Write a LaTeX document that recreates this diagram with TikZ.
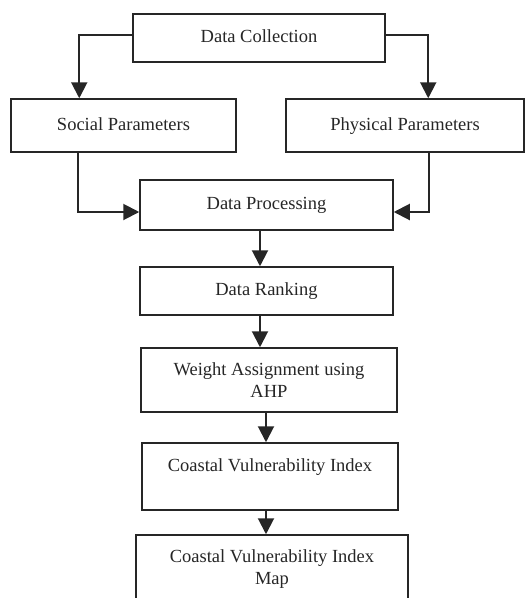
\documentclass[tikz,border=0pt]{standalone}
\usepackage{fontspec}
\setmainfont{Liberation Serif}
\usetikzlibrary{arrows.meta}

\begin{document}
\begin{tikzpicture}[x=1pt, y=-1pt,
		box/.style={draw=black!85, line width=1.5pt, align=center, inner sep=0pt, text=black!85, font=\fontsize{18.5}{22}\selectfont},
		single/.style={box, text height=13pt, text depth=4pt},
		flow/.style={line width=2pt, color=black!85, -{Triangle[length=16pt, width=16pt]}}]
			%%%%% START %%%%%
			
			\useasboundingbox (0, 0) rectangle (529, 598);
			\clip (0, 0) rectangle (529, 598);
			
			\node[single, minimum width=252pt, minimum height=48pt] (collect) at (259, 38) {Data Collection};
			\node[single, minimum width=225pt, minimum height=53pt] (social) at (123.5, 125.5) {Social Parameters};
			\node[single, minimum width=238pt, minimum height=53pt] (physical) at (405, 125.5) {Physical Parameters};
			\node[single, minimum width=253pt, minimum height=50pt] (process) at (266.5, 205) {Data Processing};
			\node[single, minimum width=253pt, minimum height=48pt] (ranking) at (266.5, 291) {Data Ranking};
			\node[box, minimum width=256pt, minimum height=64pt] (weight) at (269, 380) {Weight Assignment using\\AHP};
			\node[box, minimum width=256pt, minimum height=67pt] (cvi) at (270, 476.5) {Coastal Vulnerability Index\\\mbox{}};
			\node[box, minimum width=272pt, minimum height=68pt] (cvimap) at (272, 569) {Coastal Vulnerability Index\\Map};
			
			\draw[flow] ([yshift=3pt]collect.west) -| ([xshift=69pt]social.north west);
			\draw[flow] ([yshift=3pt]collect.east) -| ([xshift=143pt]physical.north west);
			
			\draw[flow] ([xshift=68pt]social.south west) |- ([yshift=-7pt]process.west);
			\draw[flow] ([xshift=144pt]physical.south west) |- ([yshift=-7pt]process.east);
			
			\draw[flow] ([xshift=-6.5pt]process.south) -- ([xshift=-6.5pt]process.south |- ranking.north);
			\draw[flow] ([xshift=-6.5pt]ranking.south) -- ([xshift=-6.5pt]ranking.south |- weight.north);
			\draw[flow] ([xshift=-3pt]weight.south) -- ([xshift=-3pt]weight.south |- cvi.north);
			\draw[flow] ([xshift=-4pt]cvi.south) -- ([xshift=-4pt]cvi.south |- cvimap.north);
			
			%%%%% END %%%%%
		\end{tikzpicture}
\end{document}
